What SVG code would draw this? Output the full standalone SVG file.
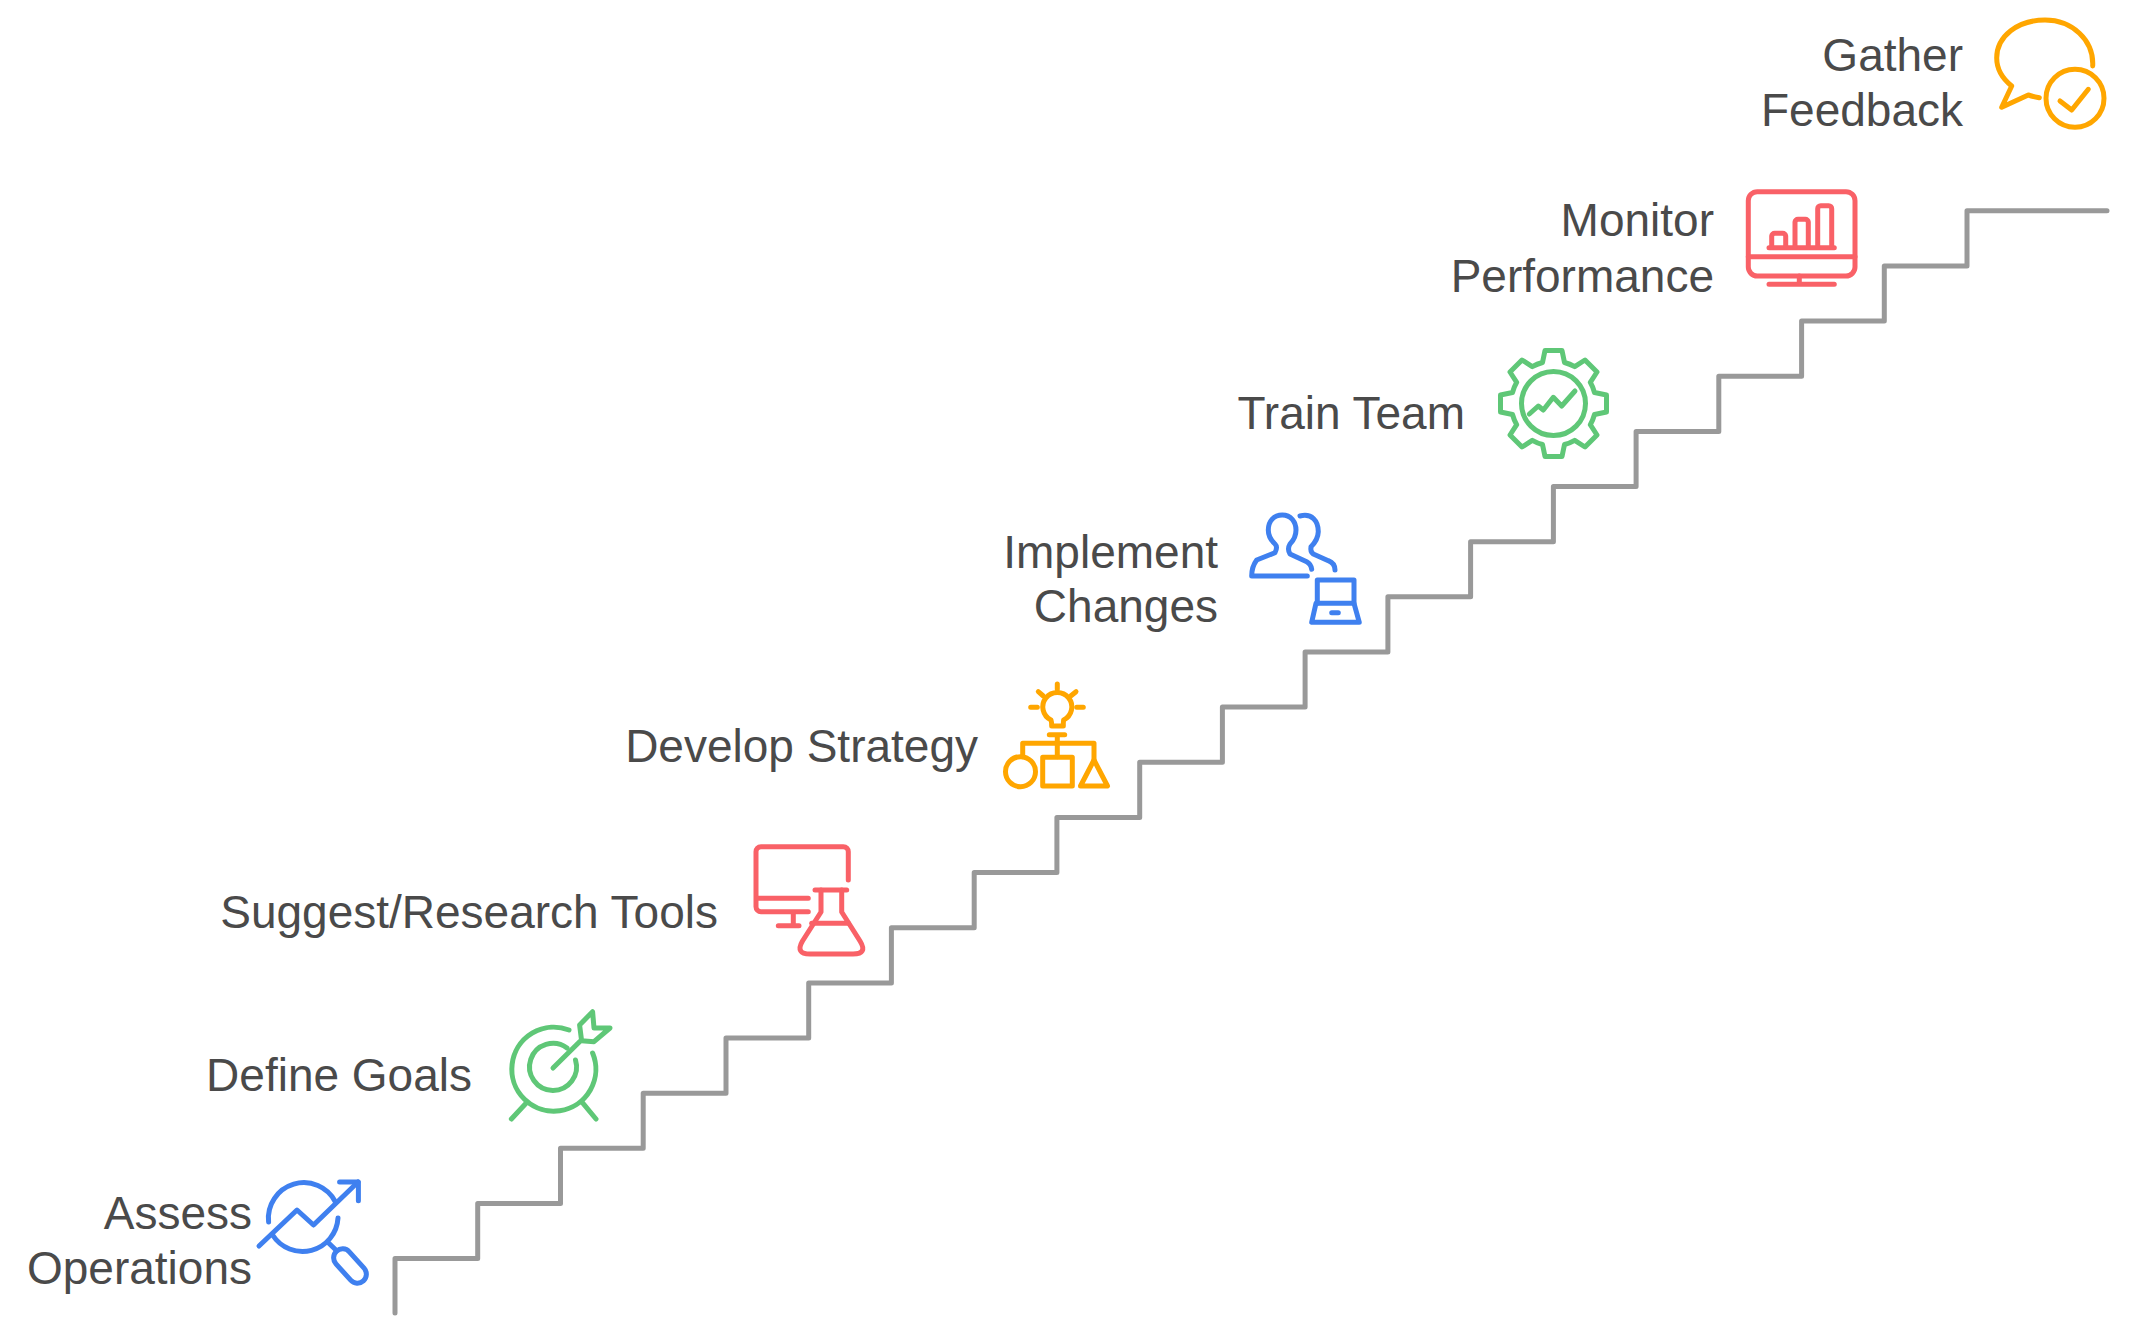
<svg xmlns="http://www.w3.org/2000/svg" width="2130" height="1330" viewBox="0 0 2130 1330">
<style>
text{font-family:"Liberation Sans",Arial,sans-serif;font-size:46px;fill:#4a4a4a;text-anchor:end}
.i{fill:none;stroke-width:5;stroke-linecap:round;stroke-linejoin:round}
.b{stroke:#3f80ef}.g{stroke:#5fc777}.r{stroke:#f96167}.o{stroke:#ffa600}
.stair{fill:none;stroke:#999;stroke-width:5;stroke-linecap:round;stroke-linejoin:round}
</style>
<rect width="2130" height="1330" fill="#fff"/>
<g id="connectors">
<path class="stair" d="M395 1313V1258.6H477.7V1203.4H560.5V1148.3H643.2V1093.2H726V1038H808.7V982.9H891.4V927.7H974.2V872.6H1056.9V817.4H1139.7V762.3H1222.4V707.1H1305.1V652H1387.9V596.8H1470.6V541.7H1553.4V486.5H1636.1V431.4H1718.8V376.2H1801.6V321.1H1884.3V265.9H1967V210.8H2107"/>
</g>
<g id="assess-operations">
<text x="252" y="1229">Assess</text>
<text x="252" y="1284">Operations</text>
<g class="i b">
<path d="M268.6 1222A35.5 35.5 0 0 1 335.5 1202"/>
<path d="M338 1218A35.5 35.5 0 0 1 272.6 1235"/>
<path d="M259 1246L297 1210L313.5 1225L358 1182"/>
<path d="M339.6 1182H358.4V1200.7"/>
<path d="M328.6 1243L336.7 1250.7"/>
<rect x="330" y="1257" width="40" height="18" rx="9" transform="rotate(48 350 1266)"/>
</g>
</g>
<g id="define-goals">
<text x="472" y="1091">Define Goals</text>
<g class="i g">
<path d="M569 1030A42 42 0 1 0 592.6 1053"/>
<path d="M567 1048A23.5 23.5 0 1 0 575.5 1060"/>
<path d="M553 1068L579.6 1041.7"/>
<path d="M581.6 1040.7L579.6 1025L592.6 1011.7L594 1028H610L594 1041.7Z"/>
<path d="M526.5 1102.7L511.4 1119M581.6 1101.7L596 1119"/>
</g>
</g>
<g id="suggest-research-tools">
<text x="718" y="928">Suggest/Research Tools</text>
<g class="i r">
<path d="M848.3 880V852A5 5 0 0 0 843.3 846.7H761A5 5 0 0 0 756 852V906.7A5 5 0 0 0 761 911.7H808.3"/>
<path d="M756.7 898.3H808.3M793.3 913V925M778.3 925.7H799"/>
<path d="M815 890H846.7"/>
<path d="M821 890V912L802.5 941Q795 954 810 954H853Q868 954 860 941L841.7 912V890"/>
<path d="M811.7 923.3H848.3"/>
</g>
</g>
<g id="develop-strategy">
<text x="978" y="762">Develop Strategy</text>
<g class="i o">
<path d="M1051 720A14.5 14.5 0 1 1 1063.6 720Q1063.3 722 1063.3 726H1051.7Q1051.7 722 1051 720Z"/>
<path d="M1057.3 684V689.3M1038.3 691.7L1043.3 696M1076 691.7L1070.7 696M1030.7 707.3H1037.3M1076.7 707.3H1083.3"/>
<path d="M1049.3 734.7H1064.7M1057.3 734.7V756.7M1022.7 756.7V743.3H1094V760"/>
<circle cx="1020.5" cy="771.7" r="15"/>
<rect x="1042.7" y="757.3" width="29.6" height="28.7"/>
<path d="M1094 760L1107.5 786H1080.5Z"/>
</g>
</g>
<g id="implement-changes">
<text x="1218" y="568">Implement</text>
<text x="1218" y="622">Changes</text>
<g class="i b">
<path d="M1307.3 576H1251.7Q1251.7 566.7 1256.7 560L1275 552.7Q1278 547 1275 544Q1268.3 538 1268.3 530C1268.3 521 1274 515 1282.3 515C1291 515 1296 522 1296 530Q1296 538 1290 544Q1287 549 1290 554L1306.7 561.7Q1311 564 1311.7 569.3"/>
<path d="M1300 516C1312 513 1318.3 521 1318.3 531.7Q1318 540 1311 546.7Q1310 552 1313.3 554L1328.3 560.7Q1335 563.3 1335 570"/>
<path d="M1317.3 603.3V580H1354V603.3"/>
<path d="M1316 603.3L1311.7 622.3H1359.3L1354 603.3Z"/>
<path d="M1331.7 612.7H1338.3"/>
</g>
</g>
<g id="train-team">
<text x="1465" y="429">Train Team</text>
<g class="i g" transform="translate(1553.5 403.5)">
<path d="M-11-41L-8.5-53H8.5L11-41A42.5 42.5 0 0 1 21.2-36.8L31.5-43.5L43.5-31.5L36.8-21.2A42.5 42.5 0 0 1 41-11L53-8.5V8.5L41 11A42.5 42.5 0 0 1 36.8 21.2L43.5 31.5L31.5 43.5L21.2 36.8A42.5 42.5 0 0 1 11 41L8.5 53H-8.5L-11 41A42.5 42.5 0 0 1-21.2 36.8L-31.5 43.5L-43.5 31.5L-36.8 21.2A42.5 42.5 0 0 1-41 11L-53 8.5V-8.5L-41-11A42.5 42.5 0 0 1-36.8-21.2L-43.5-31.5L-31.5-43.5L-21.2-36.8A42.5 42.5 0 0 1-11-41Z"/>
<circle r="32"/>
<path d="M-24.2 10.5L-15.2 2.5L-10.2 6.5L-.2-6.2L8.2 2.5L21.5-12.5"/>
</g>
</g>
<g id="monitor-performance">
<text x="1714" y="236">Monitor</text>
<text x="1714" y="292">Performance</text>
<g class="i r">
<rect x="1748.3" y="191.7" width="106.7" height="84.3" rx="9"/>
<path d="M1748.3 256.7H1855M1799.3 276V284M1769 284.3H1834.3M1769 247.7H1834.3"/>
<path d="M1771.7 247V236A3 3 0 0 1 1774.7 233.3H1782.7A3 3 0 0 1 1785.7 236V247"/>
<path d="M1795 247V222A3 3 0 0 1 1798 219.3H1805.3A3 3 0 0 1 1808.3 222V247"/>
<path d="M1817.7 247V208.7A3 3 0 0 1 1820.7 205.7H1828.7A3 3 0 0 1 1831.7 208.7V247"/>
</g>
</g>
<g id="gather-feedback">
<text x="1963" y="71">Gather</text>
<text x="1963" y="126">Feedback</text>
<g class="i o">
<path d="M2092.7 66C2094 40 2072 20 2045 20C2018 20 1996.7 36 1996.7 58C1996.7 69 2003 79 2011.7 86L2001.7 107.3L2028.3 95Q2033 96.5 2039.3 97.7"/>
<circle cx="2075" cy="98.3" r="29"/>
<path d="M2060 101L2071.7 110L2088.3 89.3"/>
</g>
</g>
</svg>
